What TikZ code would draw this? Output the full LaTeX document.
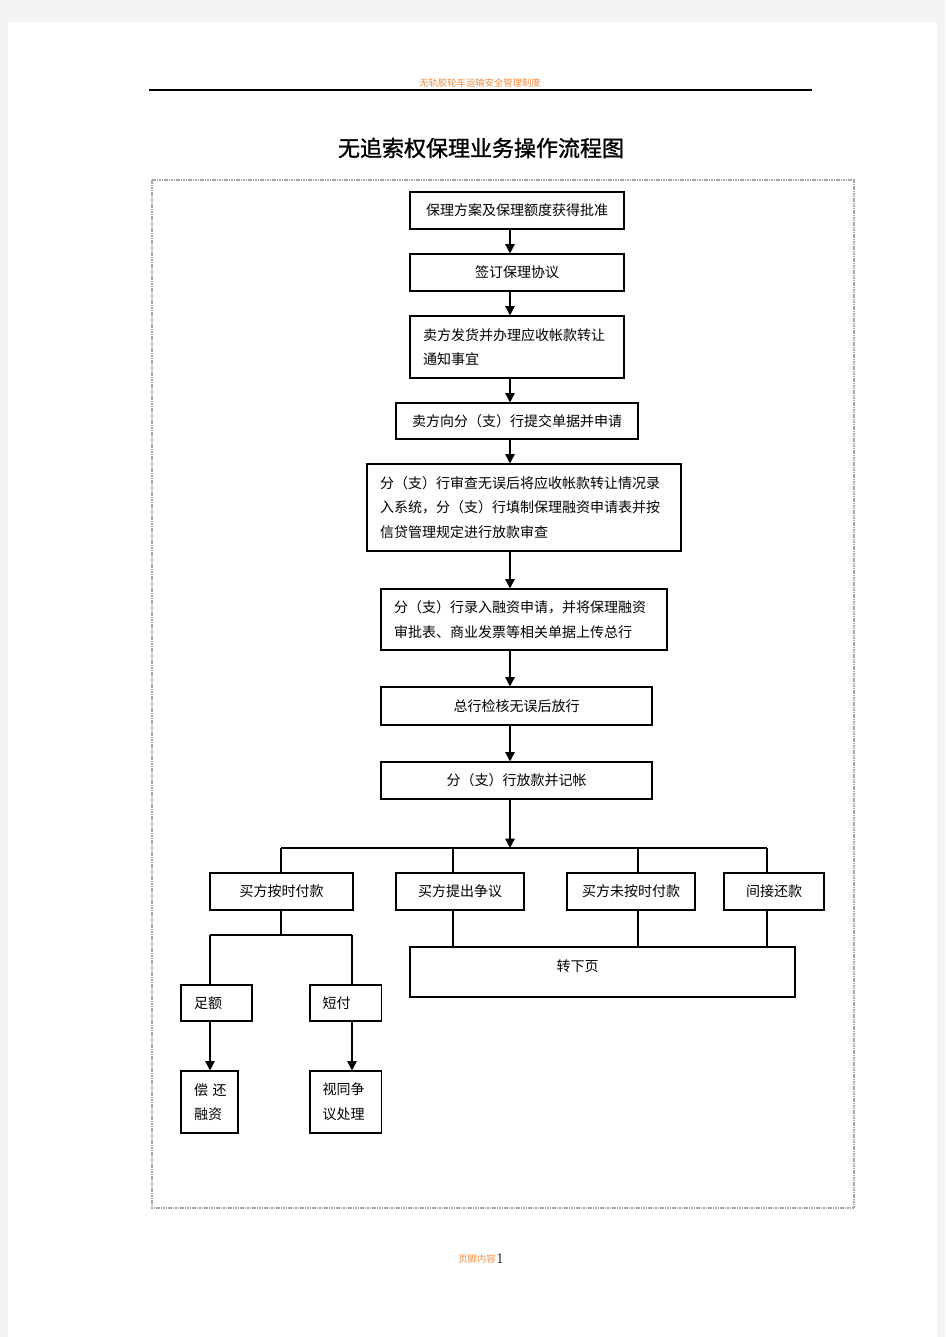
\documentclass[tikz,border=0pt]{standalone}
\usepackage{fontspec}
\usepackage{tikz}
\usetikzlibrary{arrows.meta}
\newfontfamily\cjk{Noto Sans CJK SC}
\newfontfamily\cjktitle[FakeBold=1.2]{Noto Sans CJK SC}
\definecolor{pagegray}{HTML}{F3F3F3}
\definecolor{hdrorange}{HTML}{F28A3C}

\begin{document}
\begin{tikzpicture}[x=0.75pt,y=-0.75pt]
		\tikzstyle{every node}+=[font=\cjk\fontsize{10.5}{18.5}\selectfont]
		\tikzstyle{stepbox}=[draw=black, line width=0.8pt, inner xsep=0pt, inner ysep=0pt, align=center]
		\tikzstyle{leftbox}=[stepbox, align=left]
		\tikzstyle{flow}=[black, line width=1.1pt, -{Triangle[width=7pt,length=7pt]}]
		\tikzstyle{link}=[black, line width=0.8pt]
		% page
		\fill [pagegray] (0,0) rectangle (945,1337);
		\fill [white] (8,22) rectangle (937,1337);
		\node [text=hdrorange, font=\cjk\fontsize{7}{8}\selectfont] (header) at (480,83) {无轨胶轮车运输安全管理制度};
		\draw [black, line width=0.8pt] (149,90) -- (812,90);
		\node [font=\cjktitle\fontsize{16.5}{19}\selectfont] (title) at (481,148) {无追索权保理业务操作流程图};
		\draw [gray!70, line width=0.8pt, dash pattern=on 1.2pt off 0.6pt] (152,180) rectangle (854,1208);
		% main column
		\node [stepbox, minimum width=160.5pt, minimum height=27.75pt] (b1) at (517,210.5) {保理方案及保理额度获得批准};
		\node [stepbox, minimum width=160.5pt, minimum height=27.75pt] (b2) at (517,272.5) {签订保理协议};
		\node [leftbox, minimum height=46.5pt, text width=141pt, inner xsep=9.75pt] (b3) at (517,347) {卖方发货并办理应收帐款转让\\通知事宜};
		\node [stepbox, minimum width=181.5pt, minimum height=27pt] (b4) at (517,421) {卖方向分（支）行提交单据并申请};
		\node [leftbox, minimum height=65.25pt, text width=216pt, inner xsep=9.75pt] (b5) at (524,507.5) {分（支）行审查无误后将应收帐款转让情况录\\入系统，分（支）行填制保理融资申请表并按\\信贷管理规定进行放款审查};
		\node [leftbox, minimum height=45.75pt, text width=195pt, inner xsep=9.75pt] (b6) at (524,619.5) {分（支）行录入融资申请，并将保理融资\\审批表、商业发票等相关单据上传总行};
		\node [stepbox, minimum width=203.25pt, minimum height=28.5pt] (b7) at (516.5,706) {总行检核无误后放行};
		\node [stepbox, minimum width=203.25pt, minimum height=27.75pt] (b8) at (516.5,780.5) {分（支）行放款并记帐};
		\coordinate (ax) at (510,0);
		\draw [flow] (b1.south -| ax) -- (b2.north -| ax);
		\draw [flow] (b2.south -| ax) -- (b3.north -| ax);
		\draw [flow] (b3.south -| ax) -- (b4.north -| ax);
		\draw [flow] (b4.south -| ax) -- (b5.north -| ax);
		\draw [flow] (b5.south -| ax) -- (b6.north -| ax);
		\draw [flow] (b6.south -| ax) -- (b7.north -| ax);
		\draw [flow] (b7.south -| ax) -- (b8.north -| ax);
		% branches
		\coordinate (bus) at (510,848);
		\node [stepbox, minimum width=107.25pt, minimum height=27.75pt] (k1) at (281.5,891.5) {买方按时付款};
		\node [stepbox, minimum width=96pt, minimum height=27.75pt] (k2) at (460,891.5) {买方提出争议};
		\node [stepbox, minimum width=96pt, minimum height=27.75pt] (k3) at (631,891.5) {买方未按时付款};
		\node [stepbox, minimum width=75pt, minimum height=27.75pt] (k4) at (774,891.5) {间接还款};
		\node [leftbox, minimum height=37.5pt, text width=288.75pt, text depth=9pt] (next) at (602.5,972) {\hspace*{110pt}转下页};
		\coordinate (x1) at (281,0);
		\coordinate (x2) at (453,0);
		\coordinate (x3) at (638,0);
		\coordinate (x4) at (767,0);
		\draw [flow] (b8.south -| ax) -- (bus);
		\draw [link] (bus -| x1) -- (bus -| x4);
		\draw [link] (bus -| x1) -- (k1.north -| x1);
		\draw [link] (bus -| x2) -- (k2.north -| x2);
		\draw [link] (bus -| x3) -- (k3.north -| x3);
		\draw [link] (bus -| x4) -- (k4.north -| x4);
		\draw [link] (k2.south -| x2) -- (next.north -| x2);
		\draw [link] (k3.south -| x3) -- (next.north -| x3);
		\draw [link] (k4.south -| x4) -- (next.north -| x4);
		% on-time payment
		\node [leftbox, minimum height=27pt, text width=33.75pt, inner xsep=9.75pt] (full) at (216.5,1003) {足额};
		\node [leftbox, minimum height=27pt, text width=34.5pt, inner xsep=9.4pt] (short) at (345.5,1003) {短付};
		\node [leftbox, minimum height=46.5pt, text width=23.25pt, inner xsep=9.75pt] (repay) at (209.5,1102) {\mbox{偿 还}\\融资};
		\node [leftbox, minimum height=46.5pt, text width=34.5pt, inner xsep=9.4pt] (dispute) at (345.5,1102) {视同争\\议处理};
		\coordinate (split) at (281,935);
		\coordinate (y1) at (210,0);
		\coordinate (y2) at (352,0);
		\draw [link] (k1.south -| x1) -- (split);
		\draw [link] (split -| y1) -- (split -| y2);
		\draw [link] (split -| y1) -- (full.north -| y1);
		\draw [link] (split -| y2) -- (short.north -| y2);
		\draw [flow] (full.south -| y1) -- (repay.north -| y1);
		\draw [flow] (short.south -| y2) -- (dispute.north -| y2);
		% footer
		\node [text=hdrorange, font=\cjk\fontsize{7}{8}\selectfont, anchor=east, inner sep=0pt] (foot) at (496,1259) {页脚内容};
		\node [font=\normalfont\fontsize{11}{12}\selectfont, anchor=west, inner sep=0pt] (pageno) at (foot.east) {1};
	\end{tikzpicture}
\end{document}
